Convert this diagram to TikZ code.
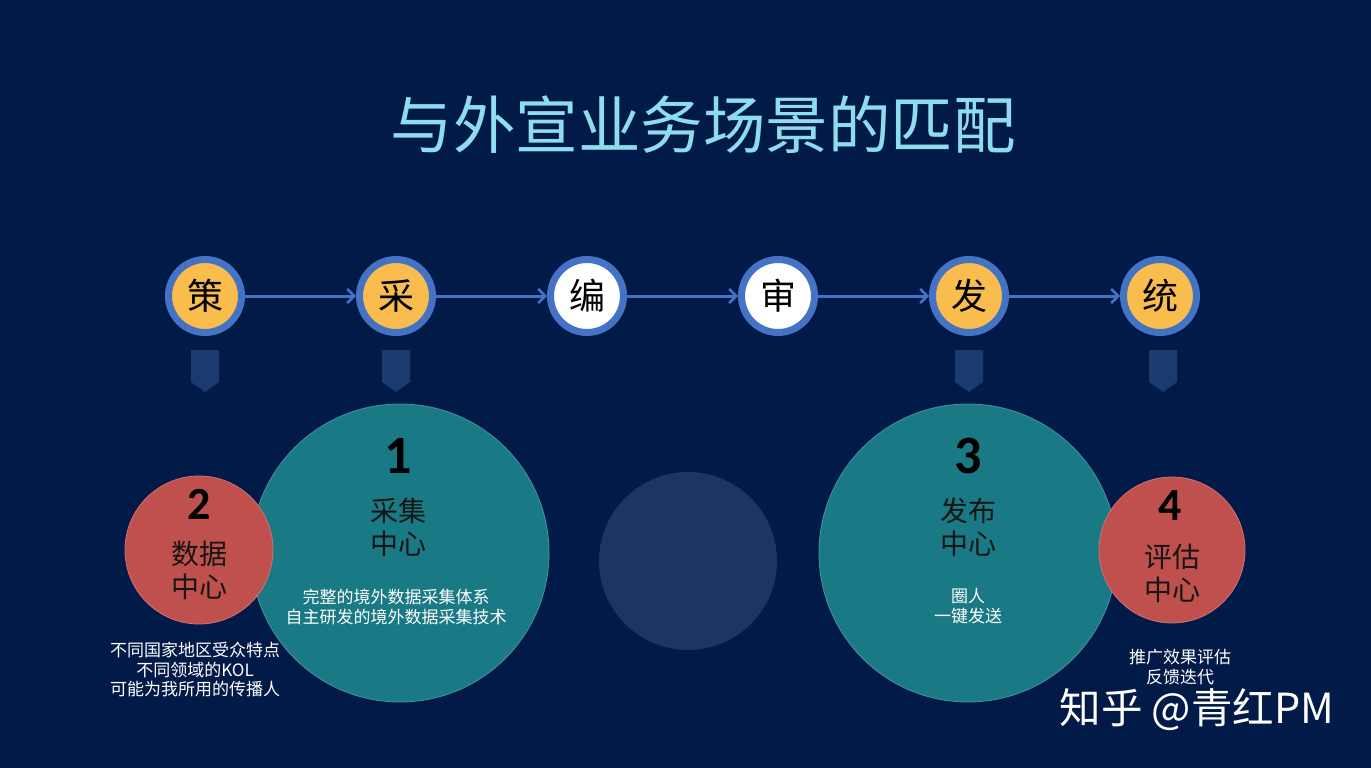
\documentclass[tikz,border=0pt]{standalone}
\usepackage{fontspec}
\setmainfont{Carlito}
\newfontfamily\cjk{Noto Sans CJK SC}
\newfontfamily\numf{Carlito}
\usetikzlibrary{arrows.meta}
\definecolor{bgc}{HTML}{021A48}
\definecolor{titlec}{HTML}{8EDDEF}
\definecolor{ringc}{HTML}{4472C4}
\definecolor{goldc}{HTML}{F8BD4C}
\definecolor{tealc}{HTML}{197A85}
\definecolor{redc}{HTML}{C0504D}
\definecolor{greyc}{HTML}{1E3461}
\definecolor{tabc}{HTML}{1A3A70}
\definecolor{darkt}{HTML}{151515}
\tikzset{
  stage/.style={circle, draw=ringc, line width=7pt, minimum size=73pt, inner sep=0pt,
    font=\cjk\fontsize{36}{36}\selectfont, text=black},
  goldstage/.style={stage, fill=goldc},
  whitestage/.style={stage, fill=white},
  arr/.style={draw=ringc, line width=3pt, -{Straight Barb[length=7pt,width=14pt,line width=2.5pt]}},
  bigc/.style={circle, fill=tealc, draw=tealc!80!white, line width=0.8pt, minimum size=298pt, inner sep=0pt},
  redcirc/.style={circle, fill=redc, draw=redc!80!white, line width=0.8pt, minimum size=148pt, inner sep=0pt},
  numlab/.style={font=\numf\bfseries\fontsize{54}{54}\selectfont, text=black},
  snumlab/.style={font=\numf\bfseries\fontsize{46}{46}\selectfont, text=black},
  cenlab/.style={font=\cjk\fontsize{28}{33}\selectfont, text=darkt, align=center},
  smalltxt/.style={font=\cjk\fontsize{17}{19.5}\selectfont, text=white, align=center},
  tab/.style={fill=tabc}
}
\begin{document}
\begin{tikzpicture}[x=1pt,y=-1pt]
\useasboundingbox (0,0) rectangle (1371,768);
\fill[bgc] (0,0) rectangle (1371,768);
% title
\node[font=\cjk\fontsize{62.5}{62.5}\selectfont, text=titlec] (title) at (703,125) {与外宣业务场景的匹配};
% stages
\node[goldstage] (s1) at (205,296) {策};
\node[goldstage] (s2) at (396,296) {采};
\node[whitestage] (s3) at (587,296) {编};
\node[whitestage] (s4) at (778,296) {审};
\node[goldstage] (s5) at (969,296) {发};
\node[goldstage] (s6) at (1160,296) {统};
\draw[arr] (s1) -- (s2);
\draw[arr] (s2) -- (s3);
\draw[arr] (s3) -- (s4);
\draw[arr] (s4) -- (s5);
\draw[arr] (s5) -- (s6);
% tabs
\foreach \x in {205,396,969,1163}{
  \fill[tab] (\x-14,350) -- (\x+14,350) -- (\x+14,382) -- (\x,392) -- (\x-14,382) -- cycle;
}
% middle grey circle
\node[circle, fill=greyc, minimum size=178pt, inner sep=0pt] (mid) at (688,561) {};
% big circles
\node[bigc] (c1) at (400,553) {};
\node[bigc] (c3) at (968,553) {};
\node[redcirc] (c2) at (199,550) {};
\node[redcirc, minimum size=146pt] (c4) at (1172,550) {};
% labels circle 1
\node[numlab] (n1) at (398,456) {1};
\node[cenlab] (l1) at (398,527) {采集\\中心};
\node[smalltxt] (d1) at (396,607) {完整的境外数据采集体系\\自主研发的境外数据采集技术};
% circle 2
\node[snumlab] (n2) at (199,504) {2};
\node[cenlab] (l2) at (199,570) {数据\\中心};
\node[smalltxt] (d2) at (195,670) {不同国家地区受众特点\\不同领域的KOL\\可能为我所用的传播人};
% circle 3
\node[numlab] (n3) at (968,456) {3};
\node[cenlab] (l3) at (968,527) {发布\\中心};
\node[smalltxt] (d3) at (968,606) {圈人\\一键发送};
% circle 4
\node[snumlab] (n4) at (1170,506) {4};
\node[cenlab] (l4) at (1172,573) {评估\\中心};
\node[smalltxt] (d4) at (1180,667) {推广效果评估\\反馈迭代};
% watermark
\node[font=\cjk\fontsize{41.5}{41.5}\selectfont, text=white, anchor=west] (wm) at (1056,710) {知乎 @青红PM};
\end{tikzpicture}
\end{document}
